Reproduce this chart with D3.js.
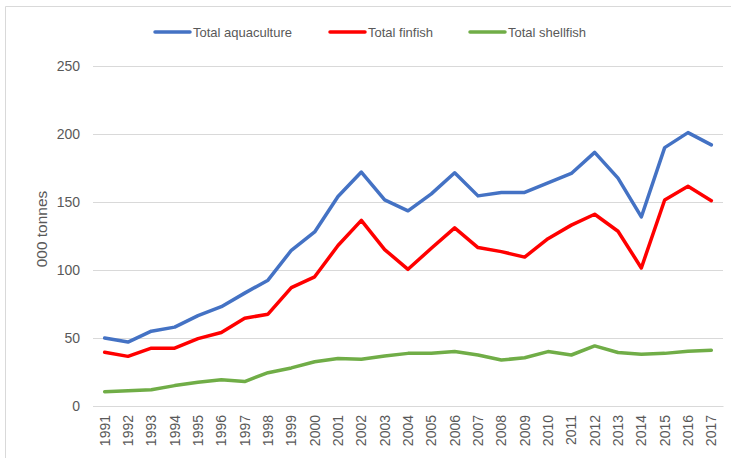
<!DOCTYPE html>
<html>
<head>
<meta charset="utf-8">
<script src="https://cdn.jsdelivr.net/npm/d3@7"></script>
<style>
  body { margin: 0; background: #fff; }
  svg { display: block; font-family: "Liberation Sans", Arial, sans-serif; }
</style>
</head>
<body>
<script>
// Scottish aquaculture production, 000 tonnes
var years = [1991, 1992, 1993, 1994, 1995, 1996, 1997, 1998, 1999, 2000,
             2001, 2002, 2003, 2004, 2005, 2006, 2007, 2008, 2009, 2010,
             2011, 2012, 2013, 2014, 2015, 2016, 2017];

var totalAquaculture = [50, 47, 55, 58, 66.5, 73, 83, 92.5, 114.5, 128,
                        154, 172, 151.5, 143.5, 156, 171.5, 154.5, 157, 157, 164,
                        171, 186.5, 167.5, 139, 190, 201, 192];
var totalFinfish = [39.5, 36.5, 42.5, 42.5, 49.5, 54, 64.5, 67.5, 87, 95,
                    118, 136.5, 115, 100.5, 116, 131, 116.5, 113.5, 109.5, 123,
                    133, 141, 128.5, 101.5, 151.5, 161.5, 151];
var totalShellfish = [10.5, 11.3, 12, 15, 17.5, 19.3, 18, 24.5, 28, 32.5,
                      35, 34.3, 36.8, 38.7, 38.7, 40, 37.5, 33.8, 35.5, 40,
                      37.5, 44.2, 39.3, 38, 38.7, 40.3, 41];

var yTicks = [0, 50, 100, 150, 200, 250];

var seriesNames = ["Total aquaculture", "Total finfish", "Total shellfish"];
var seriesColors = ["#4472c4", "#ff0000", "#70ad47"];
var seriesValues = [totalAquaculture, totalFinfish, totalShellfish];

var width = 731, height = 458;
var plot = { left: 93, right: 723, top: 66, bottom: 406 };

var svg = d3.select("body").append("svg")
    .attr("width", width)
    .attr("height", height);

// chart area border (only top and left edges are in view)
svg.append("path")
    .attr("d", "M5.5," + height + "V6.5H" + width)
    .attr("fill", "none")
    .attr("stroke", "#d9d9d9")
    .attr("stroke-width", 1);

var x = d3.scaleBand()
    .domain(years)
    .range([plot.left, plot.right]);

var y = d3.scaleLinear()
    .domain([0, 250])
    .range([plot.bottom, plot.top]);

// horizontal gridlines + y labels
var yAxis = d3.axisLeft(y)
    .tickValues(yTicks)
    .tickSize(-(plot.right - plot.left))
    .tickPadding(13);

svg.append("g")
    .attr("transform", "translate(" + plot.left + ",0)")
    .call(yAxis)
    .call(function(g) {
        g.select(".domain").remove();
        g.selectAll(".tick line").attr("stroke", "#d9d9d9").attr("stroke-width", 1);
        g.selectAll(".tick text")
          .attr("fill", "#595959")
          .attr("font-size", 14)
          .attr("font-family", "Liberation Sans, Arial, sans-serif");
    });

// x axis with rotated year labels
var xAxis = d3.axisBottom(x).tickSize(0).tickPadding(0);

svg.append("g")
    .attr("transform", "translate(0," + plot.bottom + ")")
    .call(xAxis)
    .call(function(g) {
        g.select(".domain").attr("stroke", "#d9d9d9");
        g.selectAll(".tick text")
          .attr("fill", "#595959")
          .attr("font-size", 14)
          .attr("font-family", "Liberation Sans, Arial, sans-serif")
          .attr("transform", "rotate(-90)")
          .attr("text-anchor", "end")
          .attr("dy", "0.35em")
          .attr("x", -9)
          .attr("y", 0);
    });

// y axis title
svg.append("text")
    .attr("transform", "translate(42,229) rotate(-90)")
    .attr("text-anchor", "middle")
    .attr("dy", "0.35em")
    .attr("fill", "#595959")
    .attr("font-size", 15.5)
    .attr("font-family", "Liberation Sans, Arial, sans-serif")
    .text("000 tonnes");

// series lines
var line = d3.line()
    .x(function(d, i) { return x(years[i]) + x.bandwidth() / 2; })
    .y(function(d) { return y(d); });

svg.append("g")
  .selectAll("path")
  .data(seriesValues)
  .enter()
    .append("path")
    .attr("d", line)
    .attr("fill", "none")
    .attr("stroke", function(d, i) { return seriesColors[i]; })
    .attr("stroke-width", 3.5)
    .attr("stroke-linejoin", "round")
    .attr("stroke-linecap", "round");

// legend
var legendX = [155, 330, 470];
var legend = svg.append("g")
  .selectAll("g")
  .data(seriesNames)
  .enter()
    .append("g")
    .attr("transform", function(d, i) { return "translate(" + legendX[i] + ",32)"; });

legend.append("line")
    .attr("x1", 0).attr("x2", 35)
    .attr("stroke", function(d, i) { return seriesColors[i]; })
    .attr("stroke-width", 3.5)
    .attr("stroke-linecap", "round");

legend.append("text")
    .attr("x", 38)
    .attr("dy", "0.35em")
    .attr("fill", "#595959")
    .attr("font-size", 13)
    .text(function(d) { return d; });
</script>
</body>
</html>
